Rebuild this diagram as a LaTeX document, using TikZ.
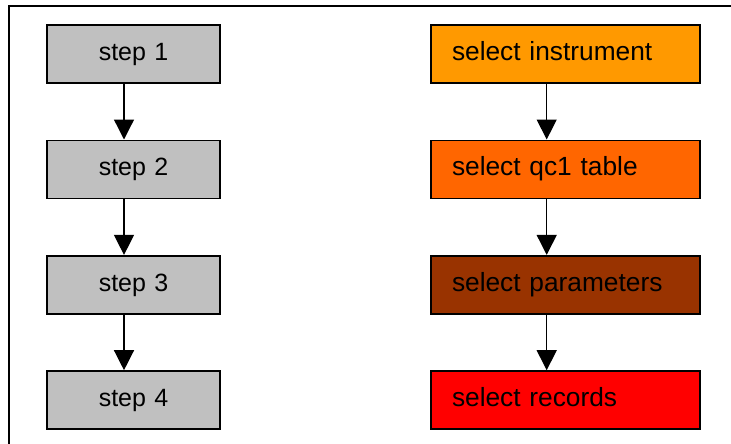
\documentclass[tikz,border=0pt]{standalone}
\usepackage{fontspec}
\setmainfont{Liberation Sans}
\usetikzlibrary{arrows.meta}
\definecolor{boxgray}{HTML}{C0C0C0}
\definecolor{orangeA}{HTML}{FF9900}
\definecolor{orangeB}{HTML}{FF6600}
\definecolor{brownC}{HTML}{993300}
\definecolor{redD}{HTML}{FF0000}
\begin{document}
\begin{tikzpicture}[x=1pt,y=-1pt,
  boxbase/.style={draw=black,line width=1.6pt,minimum height=58pt,inner sep=0pt,
    text height=18.5pt,text depth=5.5pt},
  leftbox/.style={boxbase,fill=boxgray,minimum width=173pt,text width=173pt,align=center,
    font=\fontsize{25}{28}\selectfont},
  rightbox/.style={boxbase,minimum width=269pt,text width=269pt,align=left,
    font=\fontsize{26.3}{29}\selectfont},
  flow/.style={line width=1.3pt,-{Triangle[width=20pt,length=20pt]}},
  frame/.style={line width=1.8pt}]
\useasboundingbox (0,0) rectangle (731,444);
% frame
\coordinate (fb) at (9,446);
\coordinate (fc) at (9,6);
\coordinate (fr) at (733,6);
\draw[frame] (fb) -- (fc) -- (fr);
% left column
\node[leftbox] (s1) at (133.5,54) {step 1};
\node[leftbox] (s2) at (133.5,169.3) {step 2};
\node[leftbox] (s3) at (133.5,284.7) {step 3};
\node[leftbox] (s4) at (133.5,400) {step 4};
% right column
\node[rightbox,fill=orangeA] (r1) at (565.5,54) {\hspace*{21pt}select instrument};
\node[rightbox,fill=orangeB] (r2) at (565.5,169.3) {\hspace*{21pt}select qc1 table};
\node[rightbox,fill=brownC] (r3) at (565.5,284.7) {\hspace*{21pt}select parameters};
\node[rightbox,fill=redD] (r4) at (565.5,400) {\hspace*{21pt}select records};
% arrow x positions
\coordinate (la) at (124,0);
\coordinate (ra) at (546.7,0);
\draw[flow] (s1.south -| la) -- (s2.north -| la);
\draw[flow] (s2.south -| la) -- (s3.north -| la);
\draw[flow] (s3.south -| la) -- (s4.north -| la);
\draw[flow] (r1.south -| ra) -- (r2.north -| ra);
\draw[flow] (r2.south -| ra) -- (r3.north -| ra);
\draw[flow] (r3.south -| ra) -- (r4.north -| ra);
\end{tikzpicture}
\end{document}
